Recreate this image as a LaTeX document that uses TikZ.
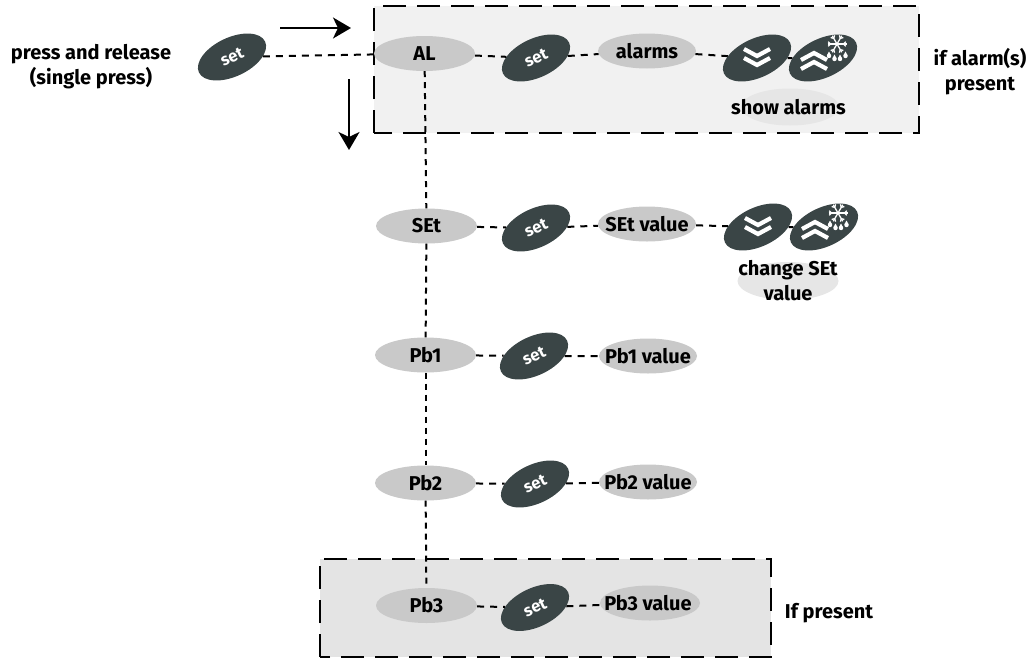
\documentclass[tikz,border=0pt]{standalone}
\usepackage{fontspec}
\setmainfont{Fira Sans}
\usetikzlibrary{shapes.geometric,arrows.meta}
\definecolor{dk}{HTML}{3A4546}
\definecolor{oval}{HTML}{C9C9C9}
\definecolor{oval2}{HTML}{E6E6E6}
\definecolor{box1}{HTML}{F1F1F1}
\definecolor{box2}{HTML}{E4E4E4}
\tikzset{
  x=1pt,y=-1pt,
  graybox/.style={ellipse,fill=oval,draw=none,inner sep=0pt,minimum width=101pt,minimum height=35pt},
  lightoval/.style={ellipse,fill=oval2,draw=none,inner sep=0pt,minimum width=98pt,minimum height=37pt},
  setbtn/.style={ellipse,fill=dk,draw=none,inner sep=0pt,minimum width=73pt,minimum height=39pt,rotate=25,
    font=\fontsize{16.5pt}{18pt}\selectfont\bfseries,text=white},
  lab/.style={inner sep=0pt,font=\fontsize{20pt}{25pt}\selectfont\bfseries,text=black,align=center},
  conn/.style={line width=2pt,dash pattern=on 7pt off 6pt,black},
  vconn/.style={line width=2pt,dash pattern=on 6pt off 5pt,black},
  region/.style={line width=2.2pt,dash pattern=on 23pt off 11pt,black},
  bigarrow/.style={line width=2pt,black,-{Stealth[length=18pt,width=21pt,inset=5pt]}},
  chev/.style={white,line width=4.2pt,miter limit=10},
  flake/.style={white,line width=1.3pt}
}
\newcommand{\downglyph}[1]{%
  \begin{scope}[shift={(#1)}]
    \draw[chev] (-13,-9) -- (0,-2) -- (13,-9);
    \draw[chev] (-13,0) -- (0,7) -- (13,0);
  \end{scope}}
\newcommand{\upglyph}[1]{%
  \begin{scope}[shift={(#1)}]
    \draw[chev] (-22,2) -- (-9,-5) -- (4,2);
    \draw[chev] (-22,11) -- (-9,4) -- (4,11);
    \begin{scope}[shift={(14,-14)}]
      \foreach \a in {0,60,120}{
        \draw[flake] (\a:-9.5) -- (\a:9.5);
        \draw[flake] (\a:6.5) -- +(\a+45:3.2) (\a:6.5) -- +(\a-45:3.2);
        \draw[flake] (\a:-6.5) -- +(\a+135:3.2) (\a:-6.5) -- +(\a-135:3.2);
      }
    \end{scope}
    \foreach \dx/\dy in {6/-2,11.5/1,17/1,22.5/-2}{
      \fill[white] (\dx,\dy) circle (2.2pt);
      \fill[white] (\dx-2.1,\dy-0.5) -- (\dx,\dy-4.5) -- (\dx+2.1,\dy-0.5) -- cycle;
    }
  \end{scope}}
\begin{document}
\begin{tikzpicture}
\useasboundingbox (0,0) rectangle (1036,659);
% regions
\fill[box1] (374,6) rectangle (919,133);
\fill[box2] (320,559) rectangle (771,657);
\draw[region] (374,133) -- (374,6) -- (919,6) -- (919,133) -- cycle;
\draw[region] (320,657) -- (320,559) -- (771,559) -- (771,657) -- cycle;
% ovals
\node[setbtn] (set0) at (232,57) {set};
\node[graybox] (AL) at (424.5,53.5) {};
\node[setbtn] (set1) at (536,58) {set};
\node[graybox,minimum width=98pt] (alarms) at (647,51) {};
\node[setbtn] (down1) at (757,58) {};
\node[setbtn] (up1) at (823,58) {};
\node[lightoval] (showoval) at (790,107) {};
\node[graybox] (SEt) at (426.5,226) {};
\node[setbtn] (set2) at (536,228) {set};
\node[graybox,minimum width=98pt] (SEtv) at (647,224) {};
\node[setbtn] (down2) at (758,227) {};
\node[setbtn] (up2) at (824,227) {};
\node[lightoval,minimum width=101pt,minimum height=38pt] (chgoval) at (788,281) {};
\node[graybox] (Pb1) at (425.5,355) {};
\node[setbtn] (set3) at (534,356) {set};
\node[graybox,minimum width=98pt] (Pb1v) at (648,356) {};
\node[graybox] (Pb2) at (425.5,483) {};
\node[setbtn] (set4) at (535,484) {set};
\node[graybox,minimum width=98pt] (Pb2v) at (648,482) {};
\node[graybox] (Pb3) at (426.5,605.5) {};
\node[setbtn] (set5) at (535,607.5) {set};
\node[graybox,minimum width=100pt] (Pb3v) at (650,603) {};
% connectors
\draw[conn] (set0) -- (AL);
\draw[conn] (AL) -- (set1);
\draw[conn] (set1) -- (alarms);
\draw[conn] (alarms) -- (down1);
\draw[conn] (down1) -- (up1);
\draw[conn] (SEt) -- (set2);
\draw[conn] (set2) -- (SEtv);
\draw[conn] (SEtv) -- (down2);
\draw[conn] (down2) -- (up2);
\draw[conn] (Pb1) -- (set3);
\draw[conn] (set3) -- (Pb1v);
\draw[conn] (Pb2) -- (set4);
\draw[conn] (set4) -- (Pb2v);
\draw[conn] (Pb3) -- (set5);
\draw[conn] (set5) -- (Pb3v);
\draw[vconn] (AL) -- (SEt);
\draw[vconn] (SEt) -- (Pb1);
\draw[vconn] (Pb1) -- (Pb2);
\draw[vconn] (Pb2) -- (Pb3);
% direction arrows
\coordinate (arrAs) at (280,28);
\coordinate (arrAe) at (351,28);
\coordinate (arrBs) at (349,79);
\coordinate (arrBe) at (349,150);
\draw[bigarrow] (arrAs) -- (arrAe);
\draw[bigarrow] (arrBs) -- (arrBe);
% labels
\node[lab] (tAL) at (AL) {AL};
\node[lab] (tal) at (alarms) {alarms};
\node[lab] (tshow) at (788.5,107) {show alarms};
\node[lab] (tSEt) at (SEt) {SEt};
\node[lab] (tSEv) at (SEtv) {SEt value};
\node[lab] (tchg) at (788,281) {change SEt\\value};
\node[lab] (tP1) at (Pb1) {Pb1};
\node[lab] (tP1v) at (Pb1v) {Pb1 value};
\node[lab] (tP2) at (Pb2) {Pb2};
\node[lab] (tP2v) at (Pb2v) {Pb2 value};
\node[lab] (tP3) at (Pb3) {Pb3};
\node[lab] (tP3v) at (648,603) {Pb3 value};
\node[lab] (tpress) at (91,66.5) {press and release\\(single press)};
\node[lab] (tif) at (980,72) {if alarm(s)\\present};
\node[lab] (tifp) at (829,613) {If present};
% key glyphs
\downglyph{down1}
\upglyph{up1}
\downglyph{down2}
\upglyph{up2}
\end{tikzpicture}
\end{document}
